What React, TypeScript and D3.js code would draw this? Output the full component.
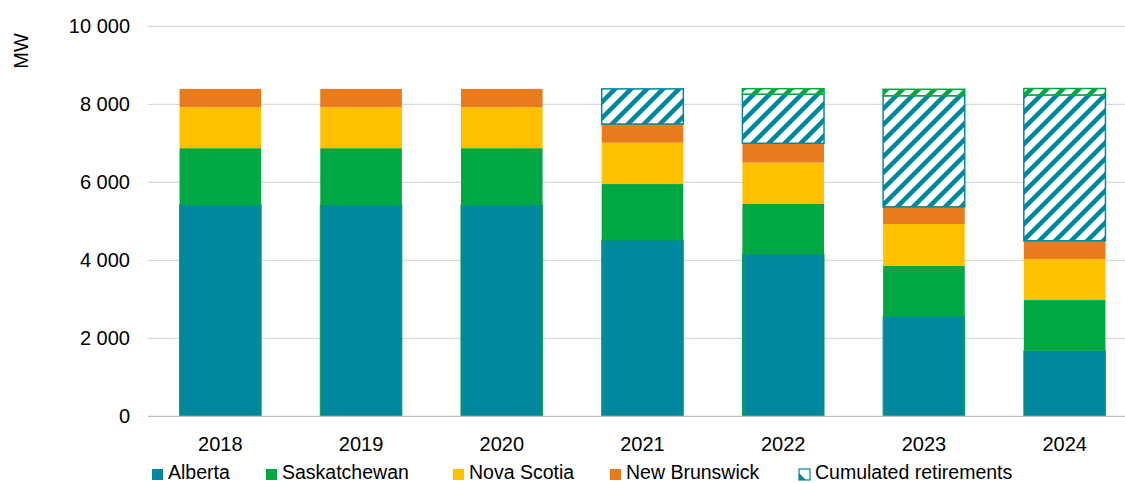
import React from "react";
import * as d3 from "d3";

const years = ["2018", "2019", "2020", "2021", "2022", "2023", "2024"];
const alberta = [5420, 5420, 5420, 4520, 4160, 2570, 1680];
const saskatchewan = [1455, 1455, 1455, 1435, 1285, 1290, 1300];
const novaScotia = [1050, 1050, 1050, 1060, 1060, 1070, 1050];
const newBrunswick = [470, 470, 470, 480, 495, 440, 470];
const albertaRetired = [0, 0, 0, 900, 1260, 2850, 3740];
const saskRetired = [0, 0, 0, 0, 140, 165, 165];
const yTicks = [0, 2000, 4000, 6000, 8000, 10000];

const legendItems = [
  { key: "ab", label: "Alberta", x: 152 },
  { key: "sk", label: "Saskatchewan", x: 266 },
  { key: "ns", label: "Nova Scotia", x: 453 },
  { key: "nb", label: "New Brunswick", x: 610 },
  { key: "ret", label: "Cumulated retirements", x: 799 },
];

const TEAL = "#00889E";
const GREEN = "#00A843";
const YELLOW = "#FFC000";
const ORANGE = "#E97B1F";

const W = 1125;
const H = 483;

export default function App() {
  const x = d3.scaleBand<string>().domain(years).range([150, 1135]).paddingInner(0.42).paddingOuter(0.21);
  const y = d3.scaleLinear().domain([0, 10000]).range([416.3, 26.3]);
  const fmt = (v: number) => d3.format(",")(v).replace(/,/g, " ");

  const series = [
    { key: "ab", values: alberta, fill: TEAL, stroke: GREEN, sw: 1 },
    { key: "sk", values: saskatchewan, fill: GREEN, stroke: "none", sw: 0 },
    { key: "ns", values: novaScotia, fill: YELLOW, stroke: "none", sw: 0 },
    { key: "nb", values: newBrunswick, fill: ORANGE, stroke: "none", sw: 0 },
    { key: "ar", values: albertaRetired, fill: "url(#hatchTeal)", stroke: TEAL, sw: 1.5 },
    { key: "sr", values: saskRetired, fill: "url(#hatchGreen)", stroke: GREEN, sw: 1.5 },
  ];

  const table = years.map((yr, i) => {
    const row: any = { year: yr };
    series.forEach((s) => (row[s.key] = s.values[i]));
    return row;
  });
  const stacked = d3.stack<any>().keys(series.map((s) => s.key))(table);

  const font = "'Liberation Sans', Arial, sans-serif";

  return (
    <svg width={W} height={H} style={{ position: "absolute", left: 0, top: 0, display: "block" }} fontFamily={font}>
      <defs>
        <pattern id="hatchTeal" patternUnits="userSpaceOnUse" width={16} height={16}>
          <rect width={16} height={16} fill="#fff" />
          <path d="M-4,4 L4,-4 M0,16 L16,0 M12,20 L20,12" stroke={TEAL} strokeWidth={4.5} />
        </pattern>
        <pattern id="hatchGreen" patternUnits="userSpaceOnUse" width={16} height={16}>
          <rect width={16} height={16} fill="#fff" />
          <path d="M-4,4 L4,-4 M0,16 L16,0 M12,20 L20,12" stroke={GREEN} strokeWidth={4.5} />
        </pattern>
        <pattern id="legendHatch" patternUnits="userSpaceOnUse" width={11} height={11} x={799} y={469}>
          <rect width={11} height={11} fill="#fff" />
          <path d="M0,11 L0,4 L7,11 Z" fill={TEAL} />
        </pattern>
      </defs>

      {yTicks.filter((t) => t > 0).map((t) => (
        <line key={t} x1={148} x2={W} y1={y(t)} y2={y(t)} stroke="#d9d9d9" strokeWidth={1.3} />
      ))}

      {stacked.map((layer, li) => {
        const s = series[li];
        return (
          <g key={s.key}>
            {layer.map((d, i) => {
              const h = y(d[0]) - y(d[1]);
              if (h <= 0) return null;
              return (
                <rect
                  key={i}
                  x={x(years[i])!}
                  y={y(d[1])}
                  width={x.bandwidth()}
                  height={h}
                  fill={s.fill}
                  stroke={s.stroke}
                  strokeWidth={s.sw}
                />
              );
            })}
          </g>
        );
      })}

      <line x1={148} x2={W} y1={y(0)} y2={y(0)} stroke="#bfbfbf" strokeWidth={1.3} />

      {yTicks.map((t) => (
        <text key={t} x={130} y={y(t) + 7} textAnchor="end" fontSize={20} fill="#000">
          {fmt(t)}
        </text>
      ))}

      <text transform="translate(28,51) rotate(-90)" textAnchor="middle" fontSize={20} fill="#000">
        MW
      </text>

      {years.map((yr) => (
        <text key={yr} x={x(yr)! + x.bandwidth() / 2} y={451} textAnchor="middle" fontSize={20} fill="#000">
          {yr}
        </text>
      ))}

      {legendItems.map((it) => {
        const fill =
          it.key === "ab" ? TEAL : it.key === "sk" ? GREEN : it.key === "ns" ? YELLOW : it.key === "nb" ? ORANGE : "url(#legendHatch)";
        return (
          <g key={it.key}>
            <rect
              x={it.x}
              y={469}
              width={11}
              height={11}
              fill={fill}
              stroke={it.key === "ret" ? TEAL : "none"}
              strokeWidth={1.2}
            />
            <text x={it.x + 16} y={479} fontSize={19.5} fill="#000">
              {it.label}
            </text>
          </g>
        );
      })}
    </svg>
  );
}
